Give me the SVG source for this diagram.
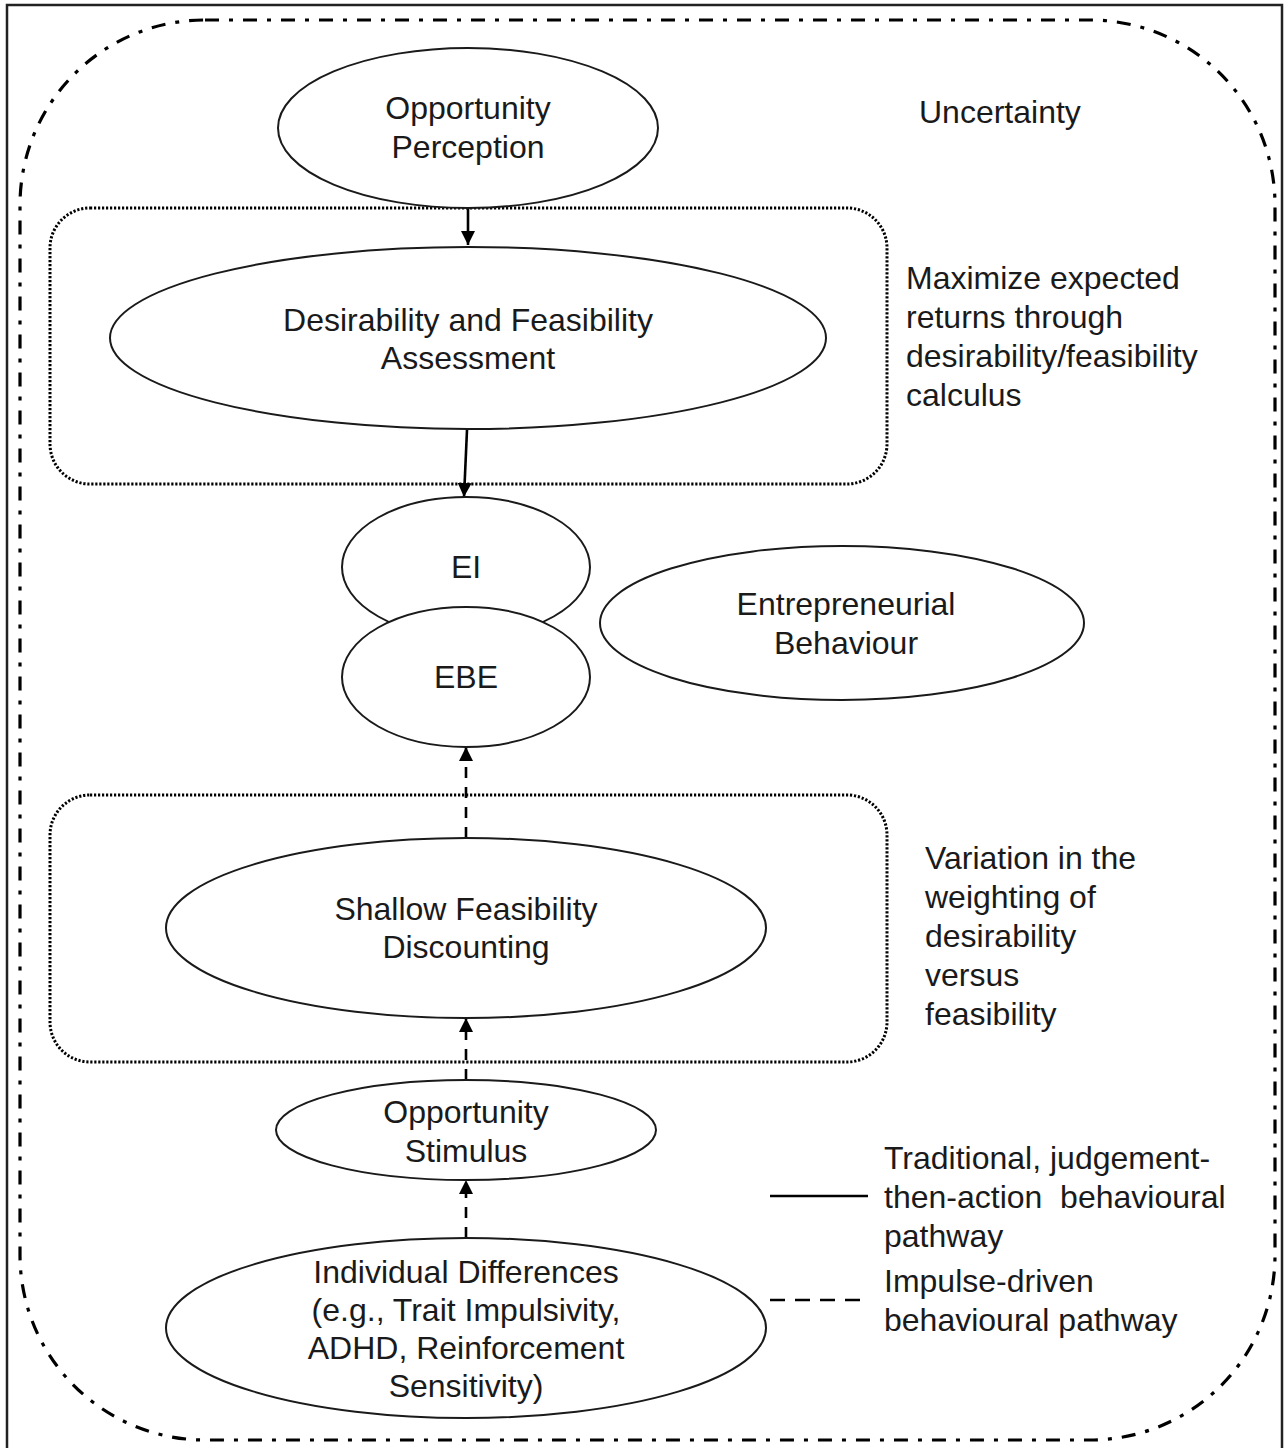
<svg xmlns="http://www.w3.org/2000/svg" width="1285" height="1448" viewBox="0 0 1285 1448">
  <style>
    .node { fill: #ffffff; stroke: #1a1a1a; stroke-width: 2; }
    .lbl { font-family: "Liberation Sans", Arial, sans-serif; font-size: 32px; fill: #1a1a1a; }
    .c { text-anchor: middle; }
    .group { fill: none; stroke: #000; stroke-width: 3; stroke-dasharray: 2.2 1.8; }
    .solid { fill: none; stroke: #000; stroke-width: 2.6; }
    .dashed { fill: none; stroke: #000; stroke-width: 2.6; stroke-dasharray: 11 9; }
  </style>
  <defs>
    <marker id="arrow" viewBox="0 0 14 14" refX="14" refY="7" markerWidth="14" markerHeight="14" markerUnits="userSpaceOnUse" orient="auto">
      <path d="M0,0 L14,7 L0,14 Z" fill="#000"/>
    </marker>
  </defs>

  <rect width="1285" height="1448" fill="#ffffff"/>
  <!-- outer frame -->
  <rect x="7" y="5" width="1275" height="1446" fill="none" stroke="#222" stroke-width="2.5"/>

  <!-- uncertainty boundary -->
  <rect id="uncertainty-boundary" x="20" y="20" width="1255" height="1420" rx="185" ry="185" fill="none" stroke="#000" stroke-width="3.2" stroke-dasharray="14 10 4 10"/>

  <!-- grouping boxes -->
  <rect id="judgement-box" class="group" x="50" y="208" width="837" height="276" rx="40" ry="40"/>
  <rect id="impulse-box" class="group" x="50" y="795" width="837" height="267" rx="40" ry="40"/>

  <!-- connectors -->
  <g id="connectors">
    <line class="solid" x1="468" y1="208" x2="468" y2="245" marker-end="url(#arrow)"/>
    <line class="solid" x1="467" y1="430" x2="464" y2="497" marker-end="url(#arrow)"/>
    <line class="dashed" x1="466" y1="838" x2="466" y2="747" marker-end="url(#arrow)"/>
    <line class="dashed" x1="466" y1="1080" x2="466" y2="1018" marker-end="url(#arrow)"/>
    <line class="dashed" x1="466" y1="1238" x2="466" y2="1180" marker-end="url(#arrow)"/>
  </g>

  <g id="opportunity-perception">
    <ellipse class="node" cx="468" cy="128" rx="190" ry="80"/>
    <text class="lbl c" x="468" y="119">Opportunity</text>
    <text class="lbl c" x="468" y="158">Perception</text>
  </g>

  <g id="desirability-feasibility">
    <ellipse class="node" cx="468" cy="338" rx="358" ry="91"/>
    <text class="lbl c" x="468" y="331">Desirability and Feasibility</text>
    <text class="lbl c" x="468" y="369">Assessment</text>
  </g>

  <g id="ei">
    <ellipse class="node" cx="466" cy="567" rx="124" ry="70"/>
    <text class="lbl c" x="466" y="578">EI</text>
  </g>

  <g id="ebe">
    <ellipse class="node" cx="466" cy="677" rx="124" ry="70"/>
    <text class="lbl c" x="466" y="688">EBE</text>
  </g>

  <g id="entrepreneurial-behaviour">
    <ellipse class="node" cx="842" cy="623" rx="242" ry="77"/>
    <text class="lbl c" x="846" y="615">Entrepreneurial</text>
    <text class="lbl c" x="846" y="654">Behaviour</text>
  </g>

  <g id="shallow-feasibility">
    <ellipse class="node" cx="466" cy="928" rx="300" ry="90"/>
    <text class="lbl c" x="466" y="920">Shallow Feasibility</text>
    <text class="lbl c" x="466" y="958">Discounting</text>
  </g>

  <g id="opportunity-stimulus">
    <ellipse class="node" cx="466" cy="1130" rx="190" ry="50"/>
    <text class="lbl c" x="466" y="1123">Opportunity</text>
    <text class="lbl c" x="466" y="1162">Stimulus</text>
  </g>

  <g id="individual-differences">
    <ellipse class="node" cx="466" cy="1328" rx="300" ry="90"/>
    <text class="lbl c" x="466" y="1283">Individual Differences</text>
    <text class="lbl c" x="466" y="1321">(e.g., Trait Impulsivity,</text>
    <text class="lbl c" x="466" y="1359">ADHD, Reinforcement</text>
    <text class="lbl c" x="466" y="1397">Sensitivity)</text>
  </g>

  <!-- side annotations -->
  <g id="annotations">
    <text class="lbl" x="919" y="123">Uncertainty</text>
    <text class="lbl" x="906" y="289">Maximize expected</text>
    <text class="lbl" x="906" y="328">returns through</text>
    <text class="lbl" x="906" y="367">desirability/feasibility</text>
    <text class="lbl" x="906" y="406">calculus</text>
    <text class="lbl" x="925" y="869">Variation in the</text>
    <text class="lbl" x="925" y="908">weighting of</text>
    <text class="lbl" x="925" y="947">desirability</text>
    <text class="lbl" x="925" y="986">versus</text>
    <text class="lbl" x="925" y="1025">feasibility</text>
  </g>

  <!-- legend -->
  <g id="legend">
    <line x1="770" y1="1196" x2="868" y2="1196" stroke="#000" stroke-width="2.6"/>
    <line x1="770" y1="1300" x2="868" y2="1300" stroke="#000" stroke-width="2.6" stroke-dasharray="15 10"/>
    <text class="lbl" x="884" y="1169">Traditional, judgement-</text>
    <text class="lbl" x="884" y="1208" xml:space="preserve">then-action  behavioural</text>
    <text class="lbl" x="884" y="1247">pathway</text>
    <text class="lbl" x="884" y="1292">Impulse-driven</text>
    <text class="lbl" x="884" y="1331">behavioural pathway</text>
  </g>
</svg>
